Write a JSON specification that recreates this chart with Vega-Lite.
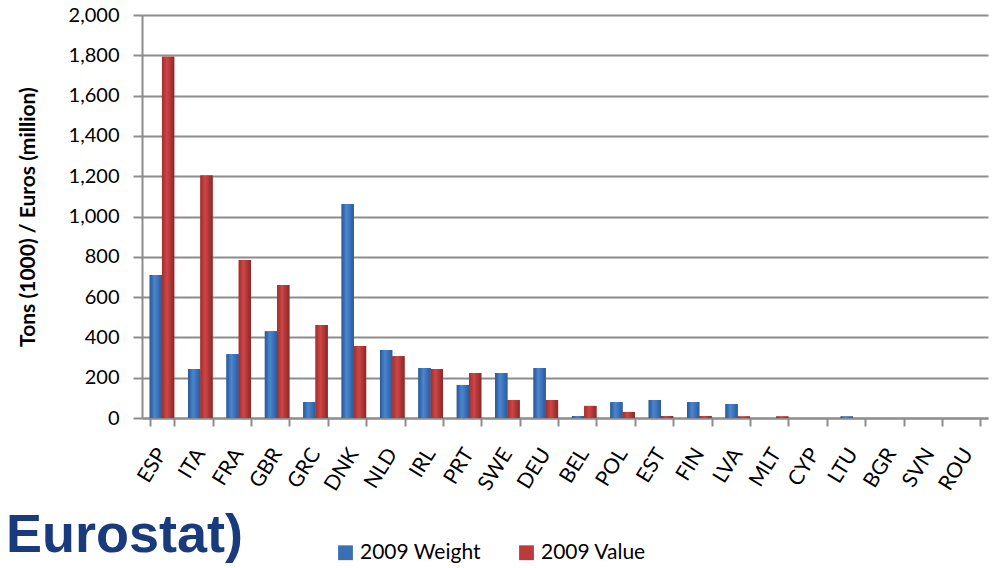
{
  "$schema": "https://vega.github.io/schema/vega-lite/v6.json",
  "width": 846,
  "height": 403,
  "autosize": "none",
  "padding": {"left": 142, "top": 15, "right": 5, "bottom": 150},
  "background": "white",
  "config": {
    "font": "Lato",
    "view": {"stroke": null},
    "axis": {"labelFont": "Lato", "titleFont": "Lato"}
  },
  "title": {
    "text": "Eurostat)",
    "orient": "bottom",
    "anchor": "start",
    "frame": "group",
    "font": "Liberation Sans",
    "fontSize": 54,
    "fontWeight": "bold",
    "color": "#1a3a7e",
    "offset": -54,
    "dx": -136
  },
  "data": {
    "values": [
      {"country": "ESP", "series": "2009 Weight", "value": 710},
      {"country": "ESP", "series": "2009 Value", "value": 1793},
      {"country": "ITA", "series": "2009 Weight", "value": 243},
      {"country": "ITA", "series": "2009 Value", "value": 1203},
      {"country": "FRA", "series": "2009 Weight", "value": 317},
      {"country": "FRA", "series": "2009 Value", "value": 784},
      {"country": "GBR", "series": "2009 Weight", "value": 431},
      {"country": "GBR", "series": "2009 Value", "value": 660},
      {"country": "GRC", "series": "2009 Weight", "value": 79},
      {"country": "GRC", "series": "2009 Value", "value": 461},
      {"country": "DNK", "series": "2009 Weight", "value": 1062},
      {"country": "DNK", "series": "2009 Value", "value": 357},
      {"country": "NLD", "series": "2009 Weight", "value": 337},
      {"country": "NLD", "series": "2009 Value", "value": 307},
      {"country": "IRL", "series": "2009 Weight", "value": 248},
      {"country": "IRL", "series": "2009 Value", "value": 243},
      {"country": "PRT", "series": "2009 Weight", "value": 164},
      {"country": "PRT", "series": "2009 Value", "value": 223},
      {"country": "SWE", "series": "2009 Weight", "value": 223},
      {"country": "SWE", "series": "2009 Value", "value": 89},
      {"country": "DEU", "series": "2009 Weight", "value": 248},
      {"country": "DEU", "series": "2009 Value", "value": 89},
      {"country": "BEL", "series": "2009 Weight", "value": 10},
      {"country": "BEL", "series": "2009 Value", "value": 60},
      {"country": "POL", "series": "2009 Weight", "value": 79},
      {"country": "POL", "series": "2009 Value", "value": 30},
      {"country": "EST", "series": "2009 Weight", "value": 89},
      {"country": "EST", "series": "2009 Value", "value": 10},
      {"country": "FIN", "series": "2009 Weight", "value": 79},
      {"country": "FIN", "series": "2009 Value", "value": 10},
      {"country": "LVA", "series": "2009 Weight", "value": 69},
      {"country": "LVA", "series": "2009 Value", "value": 8},
      {"country": "MLT", "series": "2009 Weight", "value": 0},
      {"country": "MLT", "series": "2009 Value", "value": 8},
      {"country": "CYP", "series": "2009 Weight", "value": 0},
      {"country": "CYP", "series": "2009 Value", "value": 0},
      {"country": "LTU", "series": "2009 Weight", "value": 8},
      {"country": "LTU", "series": "2009 Value", "value": 0},
      {"country": "BGR", "series": "2009 Weight", "value": 0},
      {"country": "BGR", "series": "2009 Value", "value": 0},
      {"country": "SVN", "series": "2009 Weight", "value": 0},
      {"country": "SVN", "series": "2009 Value", "value": 0},
      {"country": "ROU", "series": "2009 Weight", "value": 0},
      {"country": "ROU", "series": "2009 Value", "value": 0}
    ]
  },
  "encoding": {
    "x": {
      "field": "country",
      "type": "nominal",
      "sort": null,
      "scale": {"paddingInner": 0.36, "paddingOuter": 0.2},
      "axis": {
        "title": null,
        "labelAngle": -58,
        "labelFontSize": 21,
        "labelColor": "#000000",
        "labelPadding": 24,
        "tickBand": "extent",
        "tickSize": 8,
        "tickWidth": 2,
        "tickColor": "#8c8c8c",
        "domainColor": "#8c8c8c",
        "domainWidth": 2,
        "grid": false
      }
    },
    "xOffset": {
      "field": "series",
      "type": "nominal",
      "scale": {"domain": ["2009 Weight", "2009 Value"], "paddingInner": 0}
    },
    "y": {
      "field": "value",
      "type": "quantitative",
      "scale": {"domain": [0, 2000], "nice": false},
      "axis": {
        "title": "Tons (1000) / Euros (million)",
        "titleFontSize": 21,
        "titleFontWeight": "bold",
        "titleColor": "#000000",
        "titlePadding": 30,
        "values": [0, 200, 400, 600, 800, 1000, 1200, 1400, 1600, 1800, 2000],
        "format": ",d",
        "labelFontSize": 20,
        "labelColor": "#000000",
        "labelPadding": 14,
        "gridColor": "#8c8c8c",
        "gridWidth": 2,
        "tickSize": 9,
        "tickWidth": 2,
        "tickColor": "#8c8c8c",
        "domainColor": "#8c8c8c",
        "domainWidth": 2
      }
    }
  },
  "layer": [
    {
      "mark": {"type": "bar"},
      "encoding": {
        "color": {
          "field": "series",
          "type": "nominal",
          "scale": {"domain": ["2009 Weight", "2009 Value"], "range": ["#3a6fb6", "#bd3a3a"]},
          "legend": {
            "title": null,
            "orient": "none",
            "direction": "horizontal",
            "legendX": 193,
            "legendY": 527,
            "symbolType": "square",
            "symbolSize": 220,
            "labelFontSize": 21,
            "labelColor": "#000000",
            "columnPadding": 35,
            "labelOffset": 4
          }
        }
      }
    },
    {
      "transform": [{"filter": "datum.series === '2009 Weight'"}],
      "mark": {
        "type": "bar",
        "fill": {
          "gradient": "linear",
          "x1": 0, "y1": 0, "x2": 1, "y2": 0,
          "stops": [
            {"offset": 0, "color": "#2a5692"},
            {"offset": 0.4, "color": "#4a86d2"},
            {"offset": 1, "color": "#2b5a9a"}
          ]
        }
      },
      "encoding": {}
    },
    {
      "transform": [{"filter": "datum.series === '2009 Value'"}],
      "mark": {
        "type": "bar",
        "fill": {
          "gradient": "linear",
          "x1": 0, "y1": 0, "x2": 1, "y2": 0,
          "stops": [
            {"offset": 0, "color": "#a02f2f"},
            {"offset": 0.4, "color": "#d04545"},
            {"offset": 1, "color": "#8a2828"}
          ]
        }
      },
      "encoding": {}
    }
  ]
}
